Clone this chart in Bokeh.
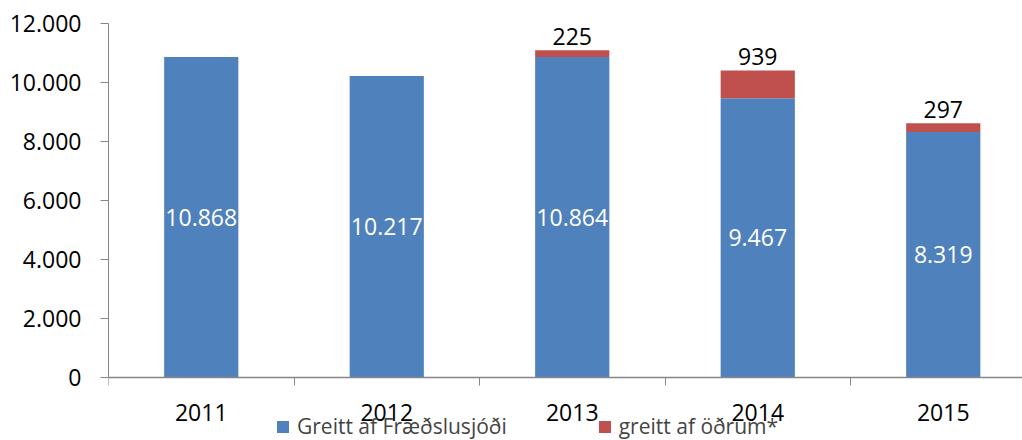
from bokeh.plotting import figure
from bokeh.models import Range1d, FixedTicker, Legend, LegendItem, ColumnDataSource
from bokeh.core.properties import value
from bokeh.embed import file_html
from bokeh.resources import INLINE

years = ["2011", "2012", "2013", "2014", "2015"]
fraedslusjodur = [10868, 10217, 10864, 9467, 8319]
odrum = [0, 0, 225, 939, 297]
y_ticks = [0, 2000, 4000, 6000, 8000, 10000, 12000]
series_names = ["Greitt af Fræðslusjóði", "greitt af öðrum*"]

BLUE = "#4F81BD"
RED = "#C0504D"
FONT = "Open Sans"
AXIS_GRAY = "#868686"


def is_fmt(v):
    return f"{v:,}".replace(",", ".")


n = len(years)
xs = [i + 0.5 for i in range(n)]
tops = [a + b for a, b in zip(fraedslusjodur, odrum)]

src = ColumnDataSource(dict(
    x=xs,
    blue=fraedslusjodur,
    red_bottom=fraedslusjodur,
    red_top=tops,
    blue_mid=[v / 2 for v in fraedslusjodur],
    blue_lbl=[is_fmt(v) for v in fraedslusjodur],
))
red_idx = [i for i in range(n) if odrum[i] > 0]
src_red_lbl = ColumnDataSource(dict(
    x=[xs[i] for i in red_idx],
    y=[tops[i] for i in red_idx],
    lbl=[is_fmt(odrum[i]) for i in red_idx],
))

W, H = 1022, 440
left, top = 108, 23
axis_px = 354            # pixel height of 0..12000
frame_w = W - left
cat_px = 185.5
y_max = max(y_ticks)
px_per_unit = axis_px / y_max
y_min = y_max - (H - top) / px_per_unit   # frame extends below 0 to hold axis labels & legend

p = figure(width=W, height=H, output_backend="svg", toolbar_location=None,
           x_range=Range1d(0, frame_w / cat_px), y_range=Range1d(y_min, y_max),
           min_border_left=left, min_border_right=0, min_border_top=top,
           min_border_bottom=0)
p.outline_line_color = None
p.grid.visible = False

bw = 0.4
r_blue = p.vbar(x="x", top="blue", bottom=0, width=bw, source=src,
                fill_color=BLUE, line_color=None)
r_red = p.vbar(x="x", top="red_top", bottom="red_bottom", width=bw, source=src,
               fill_color=RED, line_color=None)

p.text(x="x", y="blue_mid", text="blue_lbl", source=src, text_color="white",
       text_font=value(FONT), text_font_size="23px", text_align="center",
       text_baseline="middle")
p.text(x="x", y="y", text="lbl", source=src_red_lbl, text_color="black",
       text_font=value(FONT), text_font_size="23px", text_align="center",
       text_baseline="middle", y_offset=-14)

# y axis
ya = p.yaxis[0]
ya.ticker = FixedTicker(ticks=y_ticks)
ya.bounds = (0, y_max)
ya.major_label_overrides = {t: is_fmt(t) for t in y_ticks}
ya.minor_tick_line_color = None
ya.major_tick_in = 0
ya.major_tick_out = 8
ya.axis_line_color = AXIS_GRAY
ya.major_tick_line_color = AXIS_GRAY
ya.major_label_text_font = FONT
ya.major_label_text_font_size = "23px"
ya.major_label_text_color = "black"
ya.major_label_standoff = 19

# x axis at y=0: labels at centers, ticks at category boundaries
xa = p.xaxis[0]
xa.fixed_location = 0
xa.ticker = FixedTicker(ticks=xs, minor_ticks=list(range(n + 1)))
xa.major_label_overrides = {x: y for x, y in zip(xs, years)}
xa.major_tick_in = 0
xa.major_tick_out = 0
xa.minor_tick_in = 0
xa.minor_tick_out = 8
xa.minor_tick_line_color = AXIS_GRAY
xa.axis_line_color = AXIS_GRAY
xa.axis_line_width = 1.5
xa.major_label_text_font = FONT
xa.major_label_text_font_size = "23px"
xa.major_label_text_color = "black"
xa.major_label_standoff = 18

legend = Legend(items=[LegendItem(label=series_names[0], renderers=[r_blue]),
                       LegendItem(label=series_names[1], renderers=[r_red])],
                orientation="horizontal", location=(167, 0),
                label_text_font=FONT, label_text_font_size="21px",
                glyph_width=15, glyph_height=15, label_standoff=7,
                spacing=90, padding=0, margin=0,
                border_line_color=None, background_fill_alpha=0)
p.add_layout(legend, "center")

open("out.html", "w").write(file_html(p, INLINE))
